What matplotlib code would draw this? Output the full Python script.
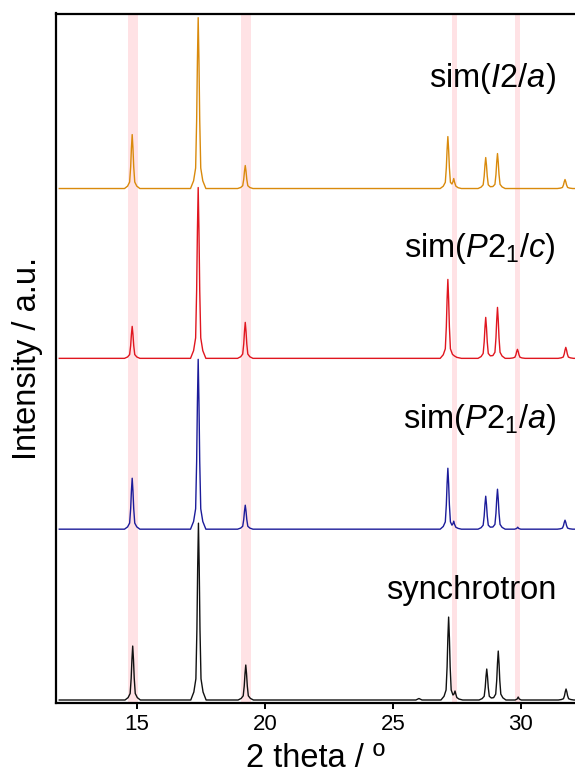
import matplotlib
matplotlib.use("Agg")
import matplotlib.pyplot as plt

plt.rcParams['font.family'] = ['Liberation Sans', 'DejaVu Sans']
plt.rcParams['mathtext.fontset'] = 'custom'
plt.rcParams['mathtext.rm'] = 'Liberation Sans'
plt.rcParams['mathtext.it'] = 'Liberation Sans:italic'

# ---------------- data (2theta, intensity a.u.) ----------------
sync_pts = [(11.96, 0),
            (14.53, 0), (14.65, 2.4), (14.73, 6.5), (14.77, 21.6), (14.80, 40.5), (14.83, 54), (14.86, 40.5), (14.89, 21.6), (14.93, 6.5), (15.01, 2.4), (15.13, 0),
            (17.10, 0), (17.22, 8), (17.30, 21.2), (17.34, 70.8), (17.37, 132.8), (17.40, 177), (17.43, 132.8), (17.46, 70.8), (17.50, 21.2), (17.58, 8), (17.70, 0),
            (18.95, 0), (19.07, 1.6), (19.15, 4.2), (19.19, 14), (19.22, 26.3), (19.25, 35), (19.28, 26.3), (19.31, 14), (19.35, 4.2), (19.43, 1.6), (19.55, 0),
            (25.90, 0), (26.02, 1.5), (26.14, 0),
            (26.88, 0), (27.00, 3.7), (27.08, 10), (27.12, 33.2), (27.15, 62.3), (27.18, 83), (27.21, 62.3), (27.24, 33.2), (27.28, 10),
            (27.35, 5), (27.39, 6), (27.43, 9), (27.46, 6), (27.50, 2.5), (27.58, 1), (27.73, 0),
            (28.37, 0), (28.49, 1.4), (28.57, 3.7), (28.61, 12.4), (28.64, 23.3), (28.67, 31), (28.70, 23.3), (28.73, 12.4), (28.77, 3.7), (28.85, 2),
            (28.94, 2.4), (29.02, 5.9), (29.06, 19.6), (29.09, 36.8), (29.12, 49), (29.15, 36.8), (29.18, 19.6), (29.22, 5.9), (29.30, 2.2), (29.42, 0),
            (29.78, 0), (29.86, 1), (29.90, 3), (29.94, 1), (30.02, 0),
            (31.47, 0), (31.59, 0.5), (31.67, 1.3), (31.71, 4.4), (31.74, 8.3), (31.77, 11), (31.80, 8.3), (31.83, 4.4), (31.87, 1.3), (31.95, 0.5), (32.07, 0),
            (32.2, 0)]

p21a_pts = [(11.96, 0),
            (14.51, 0), (14.63, 2.3), (14.71, 6.1), (14.75, 20.4), (14.78, 38.3), (14.81, 51), (14.84, 38.3), (14.87, 20.4), (14.91, 6.1), (14.99, 2.3), (15.11, 0),
            (17.09, 0), (17.21, 7.7), (17.29, 20.4), (17.33, 68), (17.36, 127.5), (17.39, 170), (17.42, 127.5), (17.45, 68), (17.49, 20.4), (17.57, 7.7), (17.69, 0),
            (18.93, 0), (19.05, 1.1), (19.13, 2.9), (19.17, 9.6), (19.20, 18), (19.23, 24), (19.26, 18), (19.29, 9.6), (19.33, 2.9), (19.41, 1.1), (19.53, 0),
            (26.85, 0), (26.97, 2.7), (27.05, 7.3), (27.09, 24.4), (27.12, 45.8), (27.15, 61), (27.18, 45.8), (27.21, 24.4), (27.25, 7.3),
            (27.31, 4), (27.35, 5.5), (27.38, 8), (27.41, 5), (27.46, 2), (27.55, 0.8), (27.68, 0),
            (28.33, 0), (28.45, 1.5), (28.53, 4), (28.57, 13.2), (28.60, 24.8), (28.63, 33), (28.66, 24.8), (28.69, 13.2), (28.73, 4), (28.81, 2),
            (28.91, 2.2), (28.99, 4.8), (29.03, 16), (29.06, 30), (29.09, 40), (29.12, 30), (29.15, 16), (29.19, 4.8), (29.27, 1.8), (29.39, 0),
            (29.76, 0), (29.84, 0.7), (29.88, 2), (29.92, 0.7), (30.0, 0),
            (31.43, 0), (31.55, 0.4), (31.63, 1.1), (31.67, 3.6), (31.70, 6.8), (31.73, 9), (31.76, 6.8), (31.79, 3.6), (31.83, 1.1), (31.91, 0.4), (32.03, 0),
            (32.2, 0)]

p21c_pts = [(11.96, 0),
            (14.51, 0), (14.63, 1.4), (14.71, 3.8), (14.75, 12.8), (14.78, 24), (14.81, 32), (14.84, 24), (14.87, 12.8), (14.91, 3.8), (14.99, 1.4), (15.11, 0),
            (17.09, 0), (17.21, 7.7), (17.29, 20.5), (17.33, 68.4), (17.36, 128.3), (17.39, 171), (17.42, 128.3), (17.45, 68.4), (17.49, 20.5), (17.57, 7.7), (17.69, 0),
            (18.93, 0), (19.05, 1.6), (19.13, 4.3), (19.17, 14.4), (19.20, 27), (19.23, 36), (19.26, 27), (19.29, 14.4), (19.33, 4.3), (19.41, 1.6), (19.53, 0),
            (26.85, 0), (26.97, 3.6), (27.05, 9.5), (27.09, 31.6), (27.12, 59.3), (27.15, 79), (27.18, 59.3), (27.21, 31.6), (27.25, 9.5),
            (27.33, 4), (27.40, 2.5), (27.50, 1), (27.68, 0),
            (28.33, 0), (28.45, 1.8), (28.53, 4.9), (28.57, 16.4), (28.60, 30.8), (28.63, 41), (28.66, 30.8), (28.69, 16.4), (28.73, 4.9), (28.81, 2.5),
            (28.91, 2.8), (28.99, 6.1), (29.03, 20.4), (29.06, 38.3), (29.09, 51), (29.12, 38.3), (29.15, 20.4), (29.19, 6.1), (29.27, 2.3), (29.39, 0),
            (29.57, 0), (29.69, 0.4), (29.77, 1.1), (29.81, 3.6), (29.84, 6.8), (29.87, 9), (29.90, 6.8), (29.93, 3.6), (29.97, 1.1), (30.05, 0.4), (30.17, 0),
            (31.46, 0), (31.58, 0.5), (31.66, 1.3), (31.70, 4.4), (31.73, 8.3), (31.76, 11), (31.79, 8.3), (31.82, 4.4), (31.86, 1.3), (31.94, 0.5), (32.06, 0),
            (32.2, 0)]

i2a_pts = [(11.96, 0),
           (14.51, 0), (14.63, 2.4), (14.71, 6.5), (14.75, 21.6), (14.78, 40.5), (14.81, 54), (14.84, 40.5), (14.87, 21.6), (14.91, 6.5), (14.99, 2.4), (15.11, 0),
           (17.09, 0), (17.21, 7.7), (17.29, 20.5), (17.33, 68.4), (17.36, 128.3), (17.39, 171), (17.42, 128.3), (17.45, 68.4), (17.49, 20.5), (17.57, 7.7), (17.69, 0),
           (18.93, 0), (19.05, 1), (19.13, 2.8), (19.17, 9.2), (19.20, 17.3), (19.23, 23), (19.26, 17.3), (19.29, 9.2), (19.33, 2.8), (19.41, 1), (19.53, 0),
           (26.85, 0), (26.97, 2.3), (27.05, 6.2), (27.09, 20.8), (27.12, 39), (27.15, 52), (27.18, 39), (27.21, 20.8), (27.25, 6.2),
           (27.31, 4.5), (27.35, 7), (27.38, 10), (27.41, 6.5), (27.46, 2.5), (27.55, 0.8), (27.68, 0),
           (28.33, 0), (28.45, 1.4), (28.53, 3.7), (28.57, 12.4), (28.60, 23.3), (28.63, 31), (28.66, 23.3), (28.69, 12.4), (28.73, 3.7), (28.81, 1.8),
           (28.91, 2), (28.99, 4.2), (29.03, 14), (29.06, 26.3), (29.09, 35), (29.12, 26.3), (29.15, 14), (29.19, 4.2), (29.27, 1.6), (29.39, 0),
           (31.43, 0), (31.55, 0.4), (31.63, 1.1), (31.67, 3.6), (31.70, 6.8), (31.73, 9), (31.76, 6.8), (31.79, 3.6), (31.83, 1.1), (31.91, 0.4), (32.03, 0),
           (32.2, 0)]

series_pts = [sync_pts, p21a_pts, p21c_pts, i2a_pts]
series_labels = ['synchrotron', 'sim($\\mathit{P}$2$_1$/$\\mathit{a}$)',
                 'sim($\\mathit{P}$2$_1$/$\\mathit{c}$)', 'sim($\\mathit{I}$2/$\\mathit{a}$)']
series_offsets = [0, 171, 342, 512]
series_colors = ['#111111', '#1C1C9A', '#E0161F', '#D98A0C']

band_lo = [14.63, 19.07, 27.32, 29.79]
band_hi = [15.02, 19.44, 27.51, 29.98]

xticks = [15, 20, 25, 30]

# ---------------- figure ----------------
W, H = 575, 774
fig = plt.figure(figsize=(W / 100, H / 100), dpi=100)
ax = fig.add_axes([55.7 / W, 1 - 703.3 / H, 1 - 55.7 / W, (703.3 - 13.5) / H])

for lo, hi in zip(band_lo, band_hi):
    ax.axvspan(lo, hi, color='#FFE2E5', lw=0, zorder=0)

for pts, lab, off, col in zip(series_pts, series_labels, series_offsets, series_colors):
    xs = [p[0] for p in pts]
    ys = [p[1] + off for p in pts]
    ax.plot(xs, ys, color=col, lw=1.0, zorder=2, clip_on=True)
    ax.text(31.38, off + 101.5, lab, ha='right', va='baseline', fontsize=23.5, color='black')

ax.set_xlim(11.82, 32.12)
ax.set_ylim(-3.3, 687.2)
ax.set_xticks(xticks)
ax.set_xticklabels([str(t) for t in xticks])
ax.set_yticks([])
ax.tick_params(axis='x', direction='out', length=4.5, width=1.4, labelsize=16, pad=3)
for s in ['left', 'bottom', 'top']:
    ax.spines[s].set_linewidth(1.6)
ax.spines['right'].set_visible(False)

fig.text(315 / W, 1 - 766.7 / H, '2 theta / º', ha='center', va='baseline', fontsize=23.5)
fig.text(28 / W, 1 - 358 / H, 'Intensity / a.u.', ha='center', va='center', rotation=90, fontsize=23.5)

fig.savefig('out.png', dpi=100)
